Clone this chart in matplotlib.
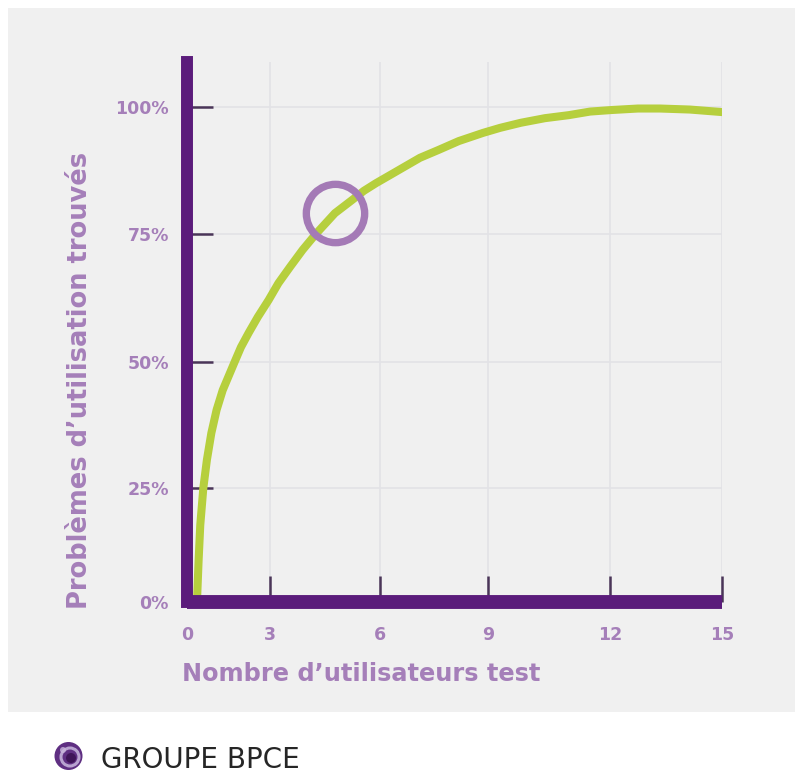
import numpy as np
import matplotlib.pyplot as plt
from matplotlib.patches import Rectangle, Circle

# courbe : nombre d'utilisateurs -> % de problemes trouves
users = [0.36, 0.42, 0.48, 0.59, 0.72, 0.88, 1.07, 1.29, 1.72,
         1.95, 2.23, 2.56, 2.95, 3.23, 3.55, 3.89, 4.25, 4.77, 5.24, 5.56,
         5.89, 6.28, 6.67, 7.11, 7.61, 8.19, 8.86, 9.30, 9.81, 10.40, 10.99,
         11.51, 12.03, 12.75, 13.34, 14.14, 15.0]
found = [0, 9.2, 16.9, 25, 30.6, 35.9, 40.5, 44.4, 50,
         52.9, 55.7, 58.8, 62.1, 65.4, 68.6, 71.9, 75, 79.1, 81.7, 83.5,
         85.0, 86.6, 88.2, 90.0, 91.5, 93.3, 94.9, 95.9, 96.9, 97.8, 98.4,
         99.1, 99.4, 99.7, 99.7, 99.5, 99.0]

# point entoure
circle_x = 4.77
circle_y = 79.1

x_ticks = [0, 3, 6, 9, 12, 15]
y_ticks = [0, 25, 50, 75, 100]
y_labels = ['0%', '25%', '50%', '75%', '100%']

# l'axe du visuel d'origine n'est pas regulier : echelle par morceaux
x_knots = [-3, 0, 3, 6, 9, 12, 15, 18]
x_pos = [-83, 0, 83, 193, 301, 423, 535, 647]
y_knots = [-10, 0, 25, 50, 75, 100, 120]
y_pos = [-45.6, 0, 114, 240, 368, 495, 596.6]


def fx(v):
    return np.interp(v, x_knots, x_pos)


def fx_inv(p):
    return np.interp(p, x_pos, x_knots)


def fy(v):
    return np.interp(v, y_knots, y_pos)


def fy_inv(p):
    return np.interp(p, y_pos, y_knots)


purple = '#5b1c7b'
lilac = '#a57fb9'
green = '#b6cf3d'

W, H = 795, 774
fig = plt.figure(figsize=(W / 100, H / 100), dpi=100, facecolor='white')

# fond gris + logo
bg = fig.add_axes([0, 0, 1, 1], zorder=0)
bg.set_xlim(0, W)
bg.set_ylim(H, 0)
bg.axis('off')
bg.add_patch(Rectangle((8, 8), W - 8, 704, color='#f0f0f0', lw=0))
bg.add_patch(Circle((68.5, 756), 14, color='#5f2f82', lw=0))
bg.add_patch(Circle((70, 757), 9, fill=False, ec='#b9a3d0', lw=2.2))
bg.add_patch(Circle((71, 758), 5, color='#3f1558', lw=0))
bg.add_patch(Circle((63, 750), 3, color='#c9b6dc', lw=0, alpha=0.8))
fig.text(101 / W, 1 - 768 / H, 'GROUPE BPCE', fontsize=20,
         color='#262626', ha='left', va='baseline')

left, right, bottom, top = 187, 722, 602, 62
ax = fig.add_axes([left / W, 1 - bottom / H, (right - left) / W,
                   (bottom - top) / H], zorder=1)
ax.patch.set_alpha(0)

ax.set_xscale('function', functions=(fx, fx_inv))
ax.set_yscale('function', functions=(fy, fy_inv))
ax.set_xlim(0, 15)
ax.set_ylim(0, fy_inv(bottom - top))

ax.plot(users, found, color=green, lw=5.8, solid_capstyle='round',
        solid_joinstyle='round', zorder=2)
ax.plot([circle_x], [circle_y], 'o', ms=42, mfc='none', mec='#a47ab6',
        mew=5.3, zorder=3)

ax.set_xticks(x_ticks)
ax.set_xticklabels([str(t) for t in x_ticks])
ax.set_yticks(y_ticks)
ax.set_yticklabels(y_labels)
ax.minorticks_off()

ax.grid(True, color='#e2e2e6', lw=1.2)
ax.tick_params(axis='both', direction='in', length=19, width=1.8,
               color='#4a3558', labelcolor=lilac, labelsize=12.5)
ax.tick_params(axis='y', pad=13)
ax.tick_params(axis='x', pad=17)
for lab in ax.get_xticklabels() + ax.get_yticklabels():
    lab.set_fontweight('bold')

for s in ['top', 'right']:
    ax.spines[s].set_visible(False)
ax.spines['left'].set_linewidth(8.6)
ax.spines['left'].set_color(purple)
ax.spines['left'].set_capstyle('projecting')
ax.spines['bottom'].set_linewidth(10)
ax.spines['bottom'].set_color(purple)
ax.spines['bottom'].set_capstyle('butt')

fig.text(182 / W, 1 - 681 / H, 'Nombre d\u2019utilisateurs test',
         fontsize=17.3, fontweight='bold', color=lilac,
         ha='left', va='baseline')
fig.text(80 / W, 1 - 609 / H, 'Probl\u00e8mes d\u2019utilisation trouv\u00e9s',
         fontsize=18.5, fontweight='bold', color=lilac, rotation=90,
         ha='center', va='bottom')

fig.savefig('out.png', dpi=100)
